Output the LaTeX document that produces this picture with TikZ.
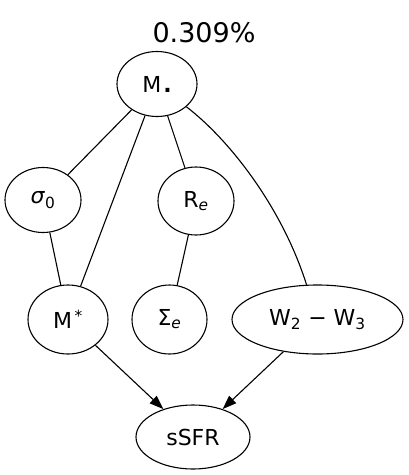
\documentclass[tikz,border=0pt]{standalone}
\usepackage{fontspec}
\setmainfont{DejaVu Sans}
\usetikzlibrary{shapes.geometric,arrows.meta}
\tikzset{
  nd/.style={draw=black, line width=1.1pt, ellipse, inner sep=0pt, font=\fontsize{22}{26}\selectfont},
  edge/.style={draw=black, line width=1.1pt},
  arr/.style={edge, -{Triangle[length=14pt,width=10pt]}},
  toplabel/.style={font=\fontsize{27}{32}\selectfont}
}
\begin{document}
\begin{tikzpicture}[x=1pt,y=-1pt]
\useasboundingbox (0,0) rectangle (409,475);
\node[toplabel] (lab) at (204,33) {0.309\%};
\node[nd, minimum width=80pt, minimum height=65pt] (M) at (157,84) {M\kern2pt{\bfseries .}};
\node[nd, minimum width=76pt, minimum height=65pt] (sig) at (43,200) {\textit{σ}\textsubscript{0}};
\node[nd, minimum width=76pt, minimum height=68pt] (Re) at (196,201) {R\textsubscript{\textit{e}}};
\node[nd, minimum width=80pt, minimum height=69pt] (Ms) at (68,319.5) {M\textsuperscript{\,*}};
\node[nd, minimum width=75pt, minimum height=69pt] (Se) at (169.5,319.5) {Σ\textsubscript{\textit{e}}};
\node[nd, minimum width=171pt, minimum height=69pt] (W) at (317.5,319.5) {W\textsubscript{2} − W\textsubscript{3}};
\node[nd, minimum width=114pt, minimum height=64pt] (S) at (193,437) {sSFR};
\draw[edge] (M) -- (sig);
\draw[edge] (M) -- (Ms);
\draw[edge] (M) -- (Re);
\draw[edge] (M) .. controls (232,142) and (283,210) .. (W);
\draw[edge] (sig) -- (Ms);
\draw[edge] (Re) -- (Se);
\draw[arr] (Ms) -- (S);
\draw[arr] (W) -- (S);
\end{tikzpicture}
\end{document}
